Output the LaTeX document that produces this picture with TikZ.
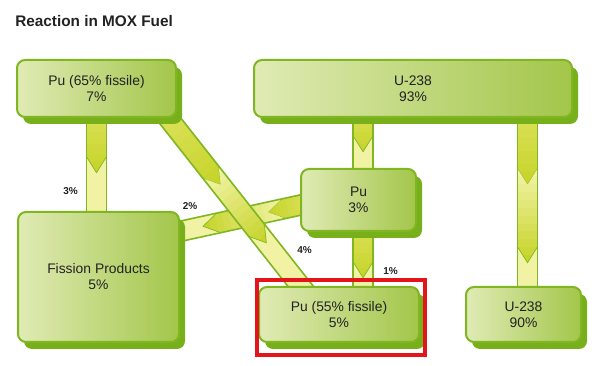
\documentclass[tikz,border=0pt]{standalone}
\usepackage{fontspec}
\setmainfont{Liberation Sans}
\usetikzlibrary{shadows}
\definecolor{boxlight}{HTML}{E0EBB5}
\definecolor{boxdark}{HTML}{A3C64A}
\definecolor{boxedge}{HTML}{7FB622}
\definecolor{boxshadow}{HTML}{78B01C}
\definecolor{bandpale}{HTML}{F1F2A4}
\definecolor{bandmid}{HTML}{DDE25E}
\definecolor{banddark}{HTML}{C6D42A}
\definecolor{inktext}{HTML}{222222}
\definecolor{markred}{HTML}{E3151B}

\newdimen\bandx
\newdimen\bandy
\makeatletter
% wide flow band from #1 to #2, chevron tips at #3 (px from #1)
\newcommand{\flowband}[3]{%
  \pgfpointdiff{\pgfpointanchor{#1}{center}}{\pgfpointanchor{#2}{center}}%
  \bandx=\pgf@x \bandy=\pgf@y
  \pgfmathsetmacro\bandangle{atan2(\bandy,\bandx)}%
  \pgfmathsetmacro\bandlen{veclen(\bandx,\bandy)/0.75}%
  \begin{scope}[shift={(#1)}, rotate=\bandangle, x=0.75pt, y=0.75pt]
    \fill[bandpale] (-14,-10) rectangle (\bandlen+14,10);
    \foreach \t [remember=\t as \s (initially -14)] in {#3}{
      \ifdim\s pt<-1pt
        \pgfmathsetmacro\segfrom{\s}\def\segcol{bandmid}%
      \else
        \pgfmathsetmacro\segfrom{\s-16}\def\segcol{bandpale}%
      \fi
      \pgfmathsetmacro\segstep{(\t-\segfrom)/12}%
      \begin{scope}
        \clip (\segfrom,-10) -- (\t-16,-10) -- (\t,0) -- (\t-16,10) -- (\segfrom,10) -- (\s,0) -- cycle;
        \foreach \k in {0,...,11}{
          \pgfmathtruncatemacro\mix{\k*100/11}
          \fill[banddark!\mix!\segcol] (\segfrom+\k*\segstep,-10) rectangle (\segfrom+\k*\segstep+\segstep+0.5,10);
        }
      \end{scope}
      \draw[boxedge, line width=0.5pt] (\t-16,-10) -- (\t,0) -- (\t-16,10);
    }
    \draw[boxedge, line width=1.2pt] (-14,-10) -- (\bandlen+14,-10) (-14,10) -- (\bandlen+14,10);
  \end{scope}
}
\makeatother

\begin{document}
\begin{tikzpicture}[x=0.75pt, y=-0.75pt,
  box/.style={draw=boxedge, line width=1.5pt, rounded corners=6pt,
    left color=boxlight, right color=boxdark, text=inktext, align=center,
    font=\fontsize{10.4}{12}\selectfont, inner sep=0pt,
    drop shadow={shadow xshift=4.5pt, shadow yshift=-5.25pt, fill=boxshadow, opacity=1}},
  share/.style={font=\fontsize{7.5}{9}\selectfont\bfseries, text=inktext},
]
  \useasboundingbox (0,0) rectangle (614,366);

  % title
  \node[font=\fontsize{11.5}{14}\selectfont\bfseries, text=inktext, anchor=west, inner sep=0pt] (title) at (15,21.5) {Reaction in MOX Fuel};

  % box frames, named first so the flows can start from them
  \path node[minimum width=119.25pt, minimum height=42.75pt] (pu65) at (96.5,88.5) {}
        node[minimum width=238.5pt, minimum height=42.75pt] (u93) at (413,88.5) {}
        node[minimum width=86.25pt, minimum height=46.5pt] (pu3) at (358.5,200) {}
        node[minimum width=120.75pt, minimum height=97.5pt] (fp) at (98.5,277) {}
        node[minimum width=120pt, minimum height=41.25pt] (pu55) at (339,314.5) {}
        node[minimum width=86.25pt, minimum height=41.25pt] (u90) at (523.5,314.5) {};

  % band ends
  \coordinate (a1) at (pu65.south);
  \coordinate (a2) at (a1 |- fp.north);
  \coordinate (b1) at ([xshift=3.4pt]pu3.north |- u93.south);
  \coordinate (b2) at (b1 |- pu3.north);
  \coordinate (c1) at (b1 |- pu3.south);
  \coordinate (c2) at (b1 |- pu55.north);
  \coordinate (d1) at ([xshift=3pt]u90.north |- u93.south);
  \coordinate (d2) at (d1 |- u90.north);
  \coordinate (e1) at ([yshift=-3.75pt]pu3.west);
  \coordinate (e2) at ([yshift=34.1pt]fp.east);
  \coordinate (f1) at ([xshift=53.25pt]pu65.south);
  \coordinate (f2) at ([xshift=-28.5pt]pu55.north);

  % flows
  \flowband{a1}{a2}{55.5}
  \flowband{b1}{b2}{34.5}
  \flowband{c1}{c2}{46.5}
  \flowband{d1}{d2}{67.5,145.5}
  \flowband{e1}{e2}{33.7,100}
  \flowband{f1}{f2}{86,159.8}

  % boxes
  \node[box, minimum width=119.25pt, minimum height=42.75pt] at (pu65) {Pu (65\% fissile)\\7\%};
  \node[box, minimum width=238.5pt, minimum height=42.75pt] at (u93) {U-238\\93\%};
  \node[box, minimum width=86.25pt, minimum height=46.5pt] at (pu3) {Pu\\3\%};
  \node[box, minimum width=120.75pt, minimum height=97.5pt] at (fp) {Fission Products\\5\%};
  \node[box, minimum width=120pt, minimum height=41.25pt] at (pu55) {Pu (55\% fissile)\\5\%};
  \node[box, minimum width=86.25pt, minimum height=41.25pt] at (u90) {U-238\\90\%};

  % shares
  \node[share] (s3) at (70.5,191.5) {3\%};
  \node[share] (s2) at (190,206) {2\%};
  \node[share] (s4) at (304.5,250.5) {4\%};
  \node[share] (s1) at (390.5,271) {1\%};

  % highlight
  \draw[markred, line width=3pt] ([shift={(-2,-7)}]pu55.north west) rectangle ([shift={(6,13)}]pu55.south east);
\end{tikzpicture}
\end{document}
